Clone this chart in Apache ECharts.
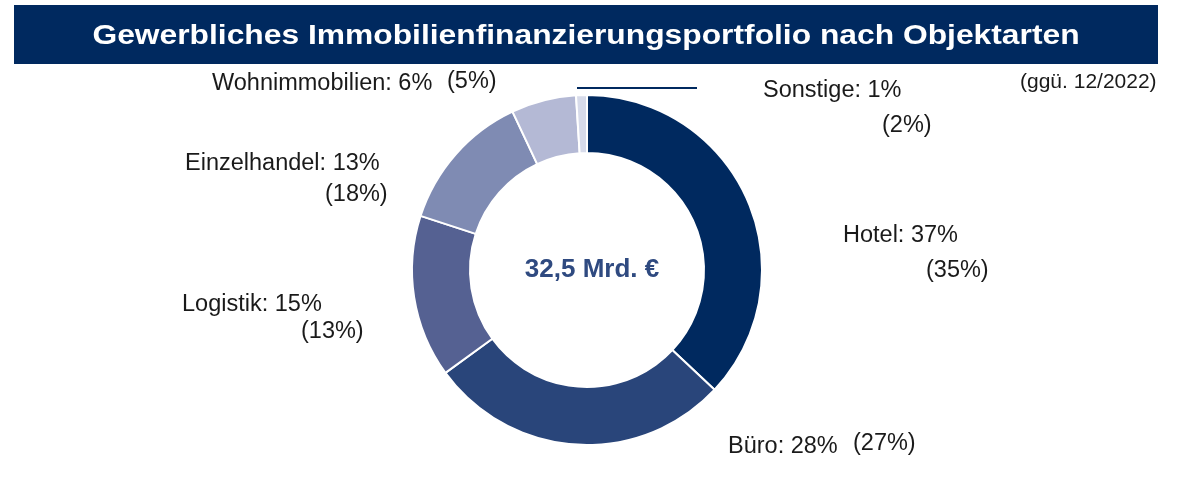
<!DOCTYPE html>
<html>
<head>
<meta charset="utf-8">
<script src="https://cdn.jsdelivr.net/npm/echarts@6/dist/echarts.min.js"></script>
<style>
  html, body { margin: 0; padding: 0; background: #fff; }
  #chart { width: 1190px; height: 477px; }
</style>
</head>
<body>
<div id="chart"></div>
<script>
// Anteile nach Objektarten (aktuell) und Vorjahr (12/2022)
var categories = ['Hotel', 'Büro', 'Logistik', 'Einzelhandel', 'Wohnimmobilien', 'Sonstige'];
var shares = [37, 28, 15, 13, 6, 1];
var priorShares = [35, 27, 13, 18, 5, 2];
var totalLabel = '32,5 Mrd. €';
var titleText = 'Gewerbliches Immobilienfinanzierungsportfolio nach Objektarten';
var noteText = '(ggü. 12/2022)';

var colors = ['#00295f', '#29457a', '#556192', '#7f8bb3', '#b4b9d5', '#d7dbea'];
var navy = '#00295f';

// label positions: [x1, y1, x2, y2] for "Name: x%" and "(y%)"
var labelPos = [
  [843, 236, 926, 271],
  [728, 447, 853, 444],
  [182, 305, 301, 332],
  [185, 164, 325, 195],
  [212, 84, 447, 82],
  [763, 91, 882, 126]
];

var chart = echarts.init(document.getElementById('chart'));

var graphics = [
  {
    type: 'rect',
    shape: { x: 14, y: 5, width: 1144, height: 59 },
    style: { fill: navy },
    silent: true
  },
  {
    type: 'text',
    x: 586, y: 36,
    scaleX: 1.135,
    style: {
      text: titleText,
      fill: '#fff',
      font: 'bold 28px "Liberation Sans", Arial, sans-serif',
      textAlign: 'center',
      textVerticalAlign: 'middle'
    }
  },
  {
    type: 'text',
    x: 1020, y: 82,
    style: {
      text: noteText,
      fill: '#1a1a1a',
      font: '21px "Liberation Sans", Arial, sans-serif',
      textAlign: 'left',
      textVerticalAlign: 'middle'
    }
  },
  {
    type: 'line',
    shape: { x1: 577, y1: 88, x2: 697, y2: 88 },
    style: { stroke: navy, lineWidth: 2 }
  },
  {
    type: 'text',
    x: 592, y: 270,
    style: {
      text: totalLabel,
      fill: '#2f4a80',
      font: 'bold 26px "Liberation Sans", Arial, sans-serif',
      textAlign: 'center',
      textVerticalAlign: 'middle'
    }
  }
];

categories.forEach(function (name, i) {
  var p = labelPos[i];
  graphics.push({
    type: 'text',
    x: p[0], y: p[1],
    style: {
      text: name + ': ' + shares[i] + '%',
      fill: '#1a1a1a',
      font: '23.5px "Liberation Sans", Arial, sans-serif',
      textAlign: 'left',
      textVerticalAlign: 'middle'
    }
  });
  graphics.push({
    type: 'text',
    x: p[2], y: p[3],
    style: {
      text: '(' + priorShares[i] + '%)',
      fill: '#1a1a1a',
      font: '23.5px "Liberation Sans", Arial, sans-serif',
      textAlign: 'left',
      textVerticalAlign: 'middle'
    }
  });
});

chart.setOption({
  animation: false,
  color: colors,
  graphic: graphics,
  series: [{
    type: 'pie',
    center: [587, 270],
    radius: [117, 175],
    startAngle: 90,
    clockwise: true,
    silent: true,
    label: { show: false },
    labelLine: { show: false },
    itemStyle: { borderColor: '#fff', borderWidth: 2 },
    data: categories.map(function (name, i) {
      return { name: name, value: shares[i] };
    })
  }]
});
</script>
</body>
</html>
